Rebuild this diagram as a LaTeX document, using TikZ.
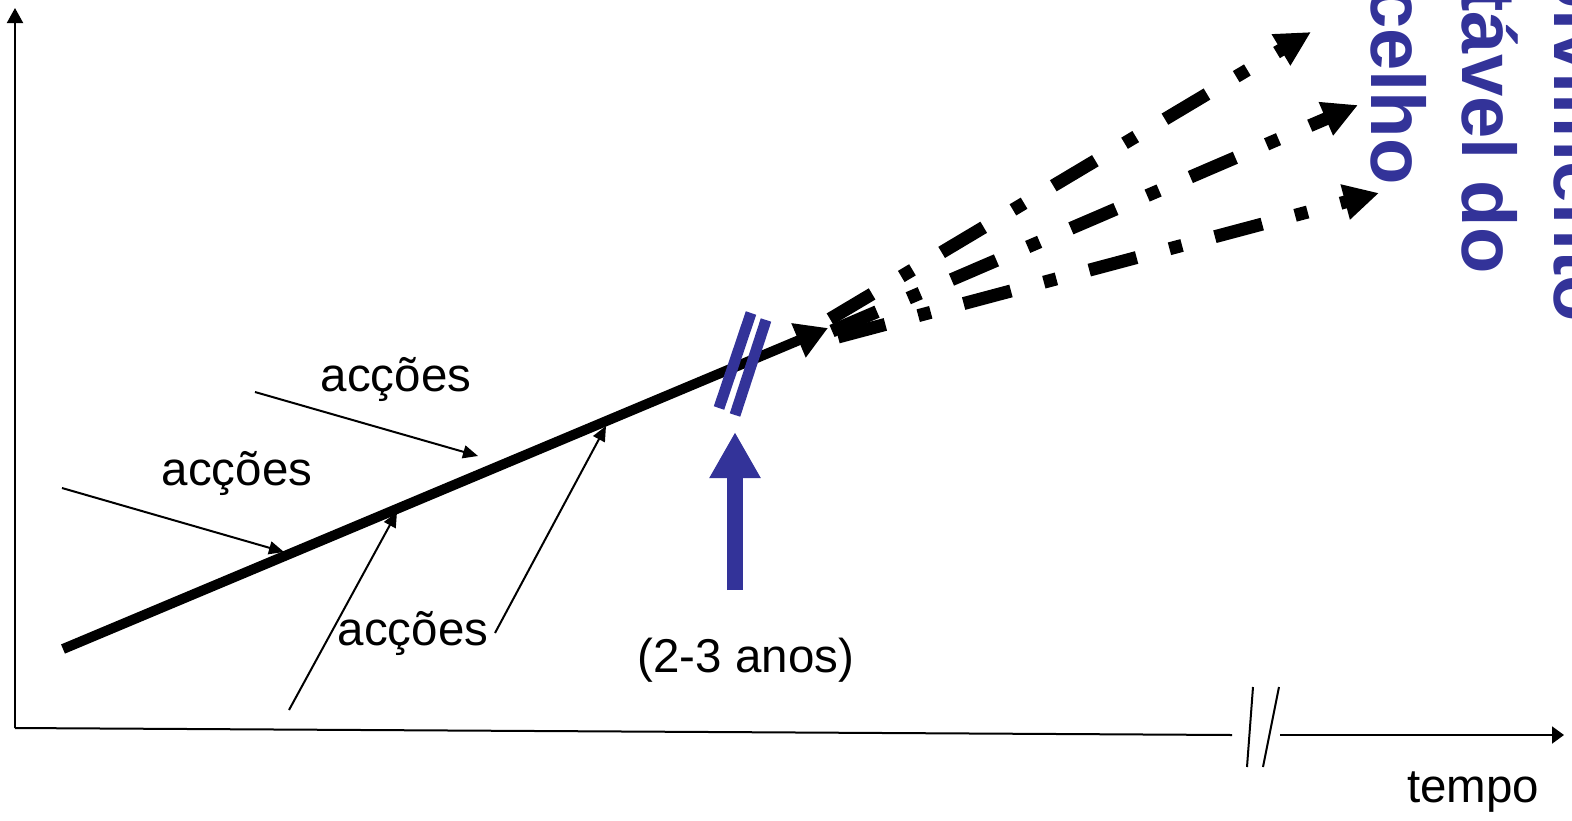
\documentclass[tikz,border=0pt]{standalone}
\usepackage{fontspec}
\setmainfont{Liberation Sans}
\usetikzlibrary{arrows.meta}
\definecolor{dblue}{RGB}{51,51,153}
\begin{document}
\begin{tikzpicture}[x=1pt,y=-1pt,
  axis/.style={line width=2pt},
  thinarrow/.style={line width=2pt,-{Triangle[length=15pt,width=13pt]}},
  lbl/.style={font=\fontsize{47.5}{52}\selectfont,inner sep=0pt,anchor=base},
  trend/.style={line width=13pt,dash pattern=on 49pt off 34pt on 13pt off 34pt,-{Triangle[length=35pt,width=34pt]}},
  btxt/.style={font=\fontsize{76}{80}\selectfont\bfseries,text=dblue,rotate=-90,inner sep=0pt,anchor=base east},
  bbar/.style={draw=dblue,line width=11pt}
]
\useasboundingbox (0,0) rectangle (1572,820);
% axes
\coordinate (O) at (15,728);
\coordinate (ytop) at (15,8);
\coordinate (xb1) at (1232,735);
\coordinate (xb2) at (1280,735);
\coordinate (xend) at (1564,735);
\draw[axis,-{Triangle[length=15pt,width=16pt]}] (O) -- (ytop);
\draw[axis] (O) -- (xb1);
\draw[axis,-{Triangle[length=12pt,width=17pt]}] (xb2) -- (xend);
\draw[axis] (1253,687) -- (1247,767);
\draw[axis] (1279,687) -- (1263,767);
% main trend
\coordinate (s) at (63,649);
\coordinate (m) at (828,328);
\draw[line width=10pt,-{Triangle[length=32pt,width=35pt]}] (s) -- (m);
% projected trends
\coordinate (d1) at (830,319);
\coordinate (d2) at (832,331);
\coordinate (d3) at (838,337);
\coordinate (e1) at (1311,32);
\coordinate (e2) at (1358,105);
\coordinate (e3) at (1379,193);
\draw[trend] (d1) -- (e1);
\draw[trend] (d2) -- (e2);
\draw[trend] (d3) -- (e3);
% blue break marks
\draw[bbar] (751,313) -- (719,408);
\draw[bbar] (766,320) -- (735,415);
% blue arrow
\coordinate (ba) at (735,590);
\coordinate (bb) at (735,432);
\draw[draw=dblue,line width=16pt,-{Triangle[length=46pt,width=48pt]}] (ba) -- (bb);
% labels
\node[lbl] (a1) at (396,391) {acções};
\node[lbl] (a2) at (237,485) {acções};
\node[lbl] (a3) at (413,645) {acções};
\node[lbl] (anos) at (746,672) {(2-3 anos)};
\node[lbl] (tempo) at (1473,802) {tempo};
% action arrows
\coordinate (p1s) at (255,392);
\coordinate (p1e) at (478,456);
\coordinate (p2s) at (62,488);
\coordinate (p2e) at (284,552);
\coordinate (p3s) at (289,710);
\coordinate (p3e) at (397,512);
\coordinate (p4s) at (495,633);
\coordinate (p4e) at (606,426);
\draw[thinarrow] (p1s) -- (p1e);
\draw[thinarrow] (p2s) -- (p2e);
\draw[thinarrow] (p3s) -- (p3e);
\draw[thinarrow] (p4s) -- (p4e);
% blue vertical title
\node[btxt] (t1) at (1554,322) {Desenvolvimento};
\node[btxt] (t2) at (1462,274) {sustentável do};
\node[btxt] (t3) at (1371,185) {concelho};
\end{tikzpicture}
\end{document}
